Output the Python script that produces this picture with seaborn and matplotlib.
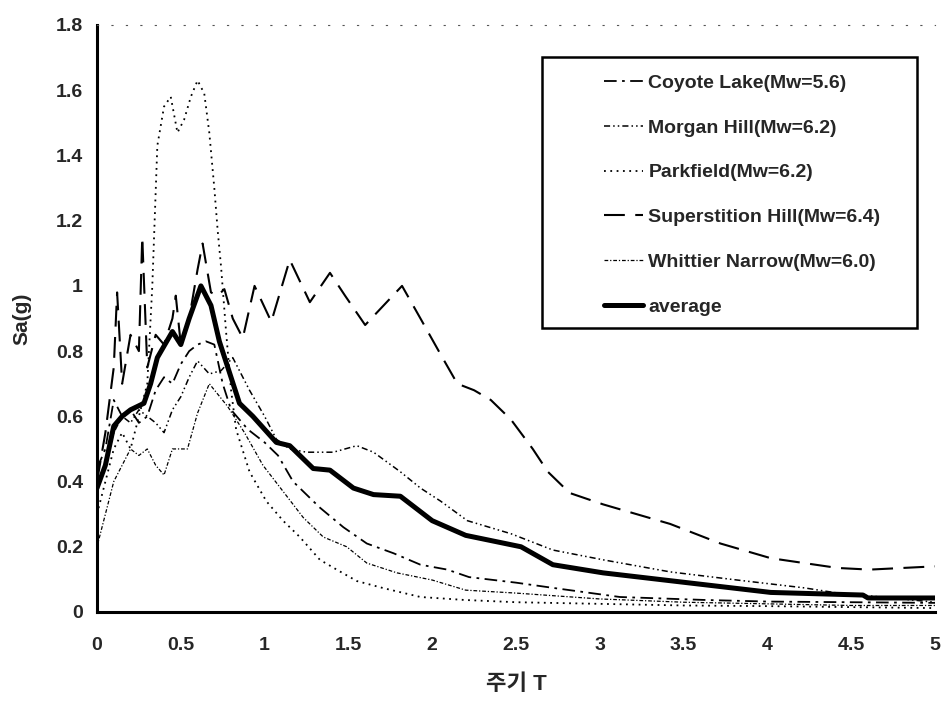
import matplotlib
matplotlib.use("Agg")
import matplotlib.pyplot as plt
import seaborn as sns
import pandas as pd
from matplotlib.patches import Rectangle

# ---------------- data ----------------
coyote_T = [0, 0.05, 0.1, 0.15, 0.2, 0.25, 0.3, 0.35, 0.4, 0.45, 0.5, 0.55, 0.6, 0.65, 0.7,
            0.75, 0.8, 0.9, 1.0, 1.08, 1.17, 1.33, 1.47, 1.61, 1.77, 1.93, 2.09, 2.22, 2.5,
            2.72, 3.12, 3.62, 4.0, 4.5, 5.0]
coyote_Sa = [0.44, 0.5, 0.65, 0.6, 0.62, 0.58, 0.6, 0.68, 0.72, 0.7, 0.76, 0.8, 0.82, 0.83, 0.82,
             0.7, 0.62, 0.56, 0.52, 0.48, 0.40, 0.32, 0.26, 0.21, 0.18, 0.145, 0.13, 0.107, 0.09,
             0.074, 0.046, 0.037, 0.032, 0.03, 0.028]

morgan_T = [0, 0.05, 0.1, 0.15, 0.2, 0.25, 0.3, 0.35, 0.4, 0.45, 0.5, 0.55, 0.6, 0.67, 0.74,
            0.81, 0.91, 1.0, 1.07, 1.15, 1.25, 1.41, 1.55, 1.65, 1.81, 1.93, 2.05, 2.21, 2.47,
            2.72, 3.02, 3.42, 3.82, 4.22, 4.42, 4.7, 5.0]
morgan_Sa = [0.4, 0.45, 0.55, 0.6, 0.58, 0.62, 0.6, 0.58, 0.55, 0.62, 0.66, 0.72, 0.77, 0.73, 0.74,
             0.78, 0.68, 0.6, 0.53, 0.5, 0.49, 0.49, 0.51, 0.49, 0.43, 0.38, 0.34, 0.28, 0.24,
             0.19, 0.16, 0.123, 0.098, 0.074, 0.058, 0.045, 0.03]

parkfield_T = [0, 0.05, 0.1, 0.15, 0.2, 0.25, 0.3, 0.33, 0.36, 0.4, 0.44, 0.48, 0.52, 0.56, 0.6,
               0.64, 0.67, 0.7, 0.72, 0.74, 0.77, 0.8, 0.83, 0.91, 1.01, 1.11, 1.21, 1.33, 1.43,
               1.55, 1.71, 1.93, 2.19, 2.5, 3.0, 3.5, 4.0, 4.5, 5.0]
parkfield_Sa = [0.3, 0.4, 0.5, 0.55, 0.5, 0.6, 0.7, 1.0, 1.43, 1.55, 1.58, 1.47, 1.51, 1.58, 1.63,
                1.59, 1.47, 1.3, 1.17, 1.06, 0.86, 0.68, 0.56, 0.43, 0.34, 0.28, 0.23, 0.16, 0.13,
                0.095, 0.073, 0.046, 0.037, 0.03, 0.025, 0.02, 0.018, 0.015, 0.012]

superstition_T = [0, 0.05, 0.1, 0.12, 0.15, 0.2, 0.25, 0.27, 0.3, 0.35, 0.4, 0.45, 0.47, 0.5,
                  0.55, 0.6, 0.63, 0.68, 0.72, 0.76, 0.81, 0.87, 0.94, 1.04, 1.15, 1.27, 1.39,
                  1.48, 1.6, 1.82, 1.93, 2.05, 2.15, 2.25, 2.35, 2.47, 2.6, 2.69, 2.82, 3.02,
                  3.22, 3.42, 3.72, 4.02, 4.42, 4.61, 5.0]
superstition_Sa = [0.4, 0.55, 0.75, 0.98, 0.7, 0.85, 0.8, 1.15, 0.75, 0.85, 0.82, 0.9, 0.97, 0.82,
                   0.9, 1.05, 1.13, 0.98, 0.97, 0.99, 0.9, 0.84, 1.0, 0.89, 1.08, 0.95, 1.04,
                   0.97, 0.88, 1.0, 0.9, 0.79, 0.70, 0.68, 0.65, 0.59, 0.5, 0.43, 0.365, 0.33,
                   0.30, 0.27, 0.21, 0.165, 0.135, 0.13, 0.14]

whittier_T = [0, 0.05, 0.1, 0.15, 0.2, 0.25, 0.3, 0.35, 0.4, 0.45, 0.54, 0.6, 0.67, 0.78, 0.88,
              0.99, 1.11, 1.23, 1.35, 1.49, 1.61, 1.79, 2.0, 2.2, 2.5, 3.0, 3.5, 4.0, 4.5, 5.0]
whittier_Sa = [0.2, 0.3, 0.4, 0.45, 0.5, 0.48, 0.5, 0.45, 0.42, 0.5, 0.5, 0.61, 0.70, 0.63, 0.55,
               0.45, 0.37, 0.29, 0.23, 0.2, 0.15, 0.12, 0.098, 0.067, 0.058, 0.04, 0.03, 0.025,
               0.02, 0.02]

average_T = [0, 0.05, 0.1, 0.15, 0.2, 0.28, 0.32, 0.36, 0.45, 0.5, 0.55, 0.62, 0.68, 0.73, 0.85,
             0.93, 1.07, 1.15, 1.29, 1.39, 1.53, 1.65, 1.81, 2.0, 2.2, 2.53, 2.72, 3.02, 3.52,
             4.02, 4.57, 4.6, 5.0]
average_Sa = [0.38, 0.45, 0.57, 0.6, 0.62, 0.64, 0.7, 0.78, 0.86, 0.82, 0.9, 1.0, 0.94, 0.83, 0.64,
              0.6, 0.52, 0.51, 0.44, 0.435, 0.38, 0.36, 0.355, 0.28, 0.235, 0.2, 0.145, 0.12,
              0.09, 0.06, 0.052, 0.043, 0.043]

labels = ["Coyote Lake(Mw=5.6)", "Morgan Hill(Mw=6.2)", "Parkfield(Mw=6.2)",
          "Superstition Hill(Mw=6.4)", "Whittier Narrow(Mw=6.0)", "average"]
x_ticks = [0, 0.5, 1, 1.5, 2, 2.5, 3, 3.5, 4, 4.5, 5]
x_tick_labels = ["0", "0.5", "1", "1.5", "2", "2.5", "3", "3.5", "4", "4.5", "5"]
y_ticks = [0, 0.2, 0.4, 0.6, 0.8, 1.0, 1.2, 1.4, 1.6, 1.8]
y_tick_labels = ["0", "0.2", "0.4", "0.6", "0.8", "1", "1.2", "1.4", "1.6", "1.8"]
x_label = "주기 T"
y_label = "Sa(g)"

# ---------------- styling ----------------
sns.set_theme(style="white")
plt.rcParams["font.family"] = ["Liberation Sans", "Noto Sans CJK KR", "DejaVu Sans"]
plt.rcParams["font.weight"] = "bold"

series = [
    (coyote_T, coyote_Sa, (0, (7, 3, 1.5, 3)), 1.3),
    (morgan_T, morgan_Sa, (0, (4, 2, 1, 2, 1, 2)), 1.1),
    (parkfield_T, parkfield_Sa, (0, (1, 2.5)), 1.3),
    (superstition_T, superstition_Sa, (0, (10, 5)), 1.5),
    (whittier_T, whittier_Sa, (0, (3, 1.5, 1, 1.5)), 0.9),
    (average_T, average_Sa, "-", 3.6),
]

fig = plt.figure(figsize=(9.42, 7.22), dpi=100)
ax = fig.add_axes([97 / 942, 1 - 612 / 722, (935 - 97) / 942, (612 - 25) / 722])

for (T, Sa, ls, lw), lab in zip(series, labels):
    df = pd.DataFrame({"T": T, "Sa": Sa})
    sns.lineplot(data=df, x="T", y="Sa", ax=ax, color="black", linestyle=ls,
                 linewidth=lw, label=lab, sort=False, estimator=None)

ax.set_xlim(0, 5)
ax.set_ylim(0, 1.8)
ax.set_xticks(x_ticks)
ax.set_xticklabels(x_tick_labels, fontsize=14, fontweight="bold")
ax.set_yticks(y_ticks)
ax.set_yticklabels(y_tick_labels, fontsize=14, fontweight="bold")
ax.tick_params(axis="both", direction="in", length=4, width=1.5, color="black")
ax.tick_params(axis="y", pad=10)
ax.tick_params(axis="x", pad=18)

for side in ["left", "bottom"]:
    ax.spines[side].set_visible(True)
    ax.spines[side].set_color("black")
    ax.spines[side].set_linewidth(2.2)
ax.spines["right"].set_visible(False)
ax.spines["top"].set_visible(True)
ax.spines["top"].set_color("#555555")
ax.spines["top"].set_linewidth(0.8)
ax.spines["top"].set_linestyle((0, (1, 12)))

ax.set_xlabel(x_label, fontsize=16, fontweight="bold")
ax.set_ylabel(y_label, fontsize=15, fontweight="bold")
ax.xaxis.set_label_coords(0.5, (612 - 685) / 587, transform=ax.transAxes)
ax.yaxis.set_label_coords((22 - 97) / 838, 0.5, transform=ax.transAxes)
ax.xaxis.label.set_verticalalignment("center")
ax.yaxis.label.set_verticalalignment("center")

leg = ax.legend(loc="center left", bbox_to_anchor=(594 / 942, 1 - 195 / 722),
                bbox_transform=fig.transFigure, frameon=False, fontsize=14,
                borderpad=0, labelspacing=1.4, handlelength=2.0, handletextpad=0.3)
for t in leg.get_texts():
    t.set_fontweight("bold")

fig.patches.append(Rectangle((542 / 942, 1 - 328 / 722), (917 - 542) / 942, (328 - 57) / 722,
                             transform=fig.transFigure, fill=False, edgecolor="black",
                             linewidth=1.8))

fig.savefig("out.png", dpi=100, facecolor="white")
